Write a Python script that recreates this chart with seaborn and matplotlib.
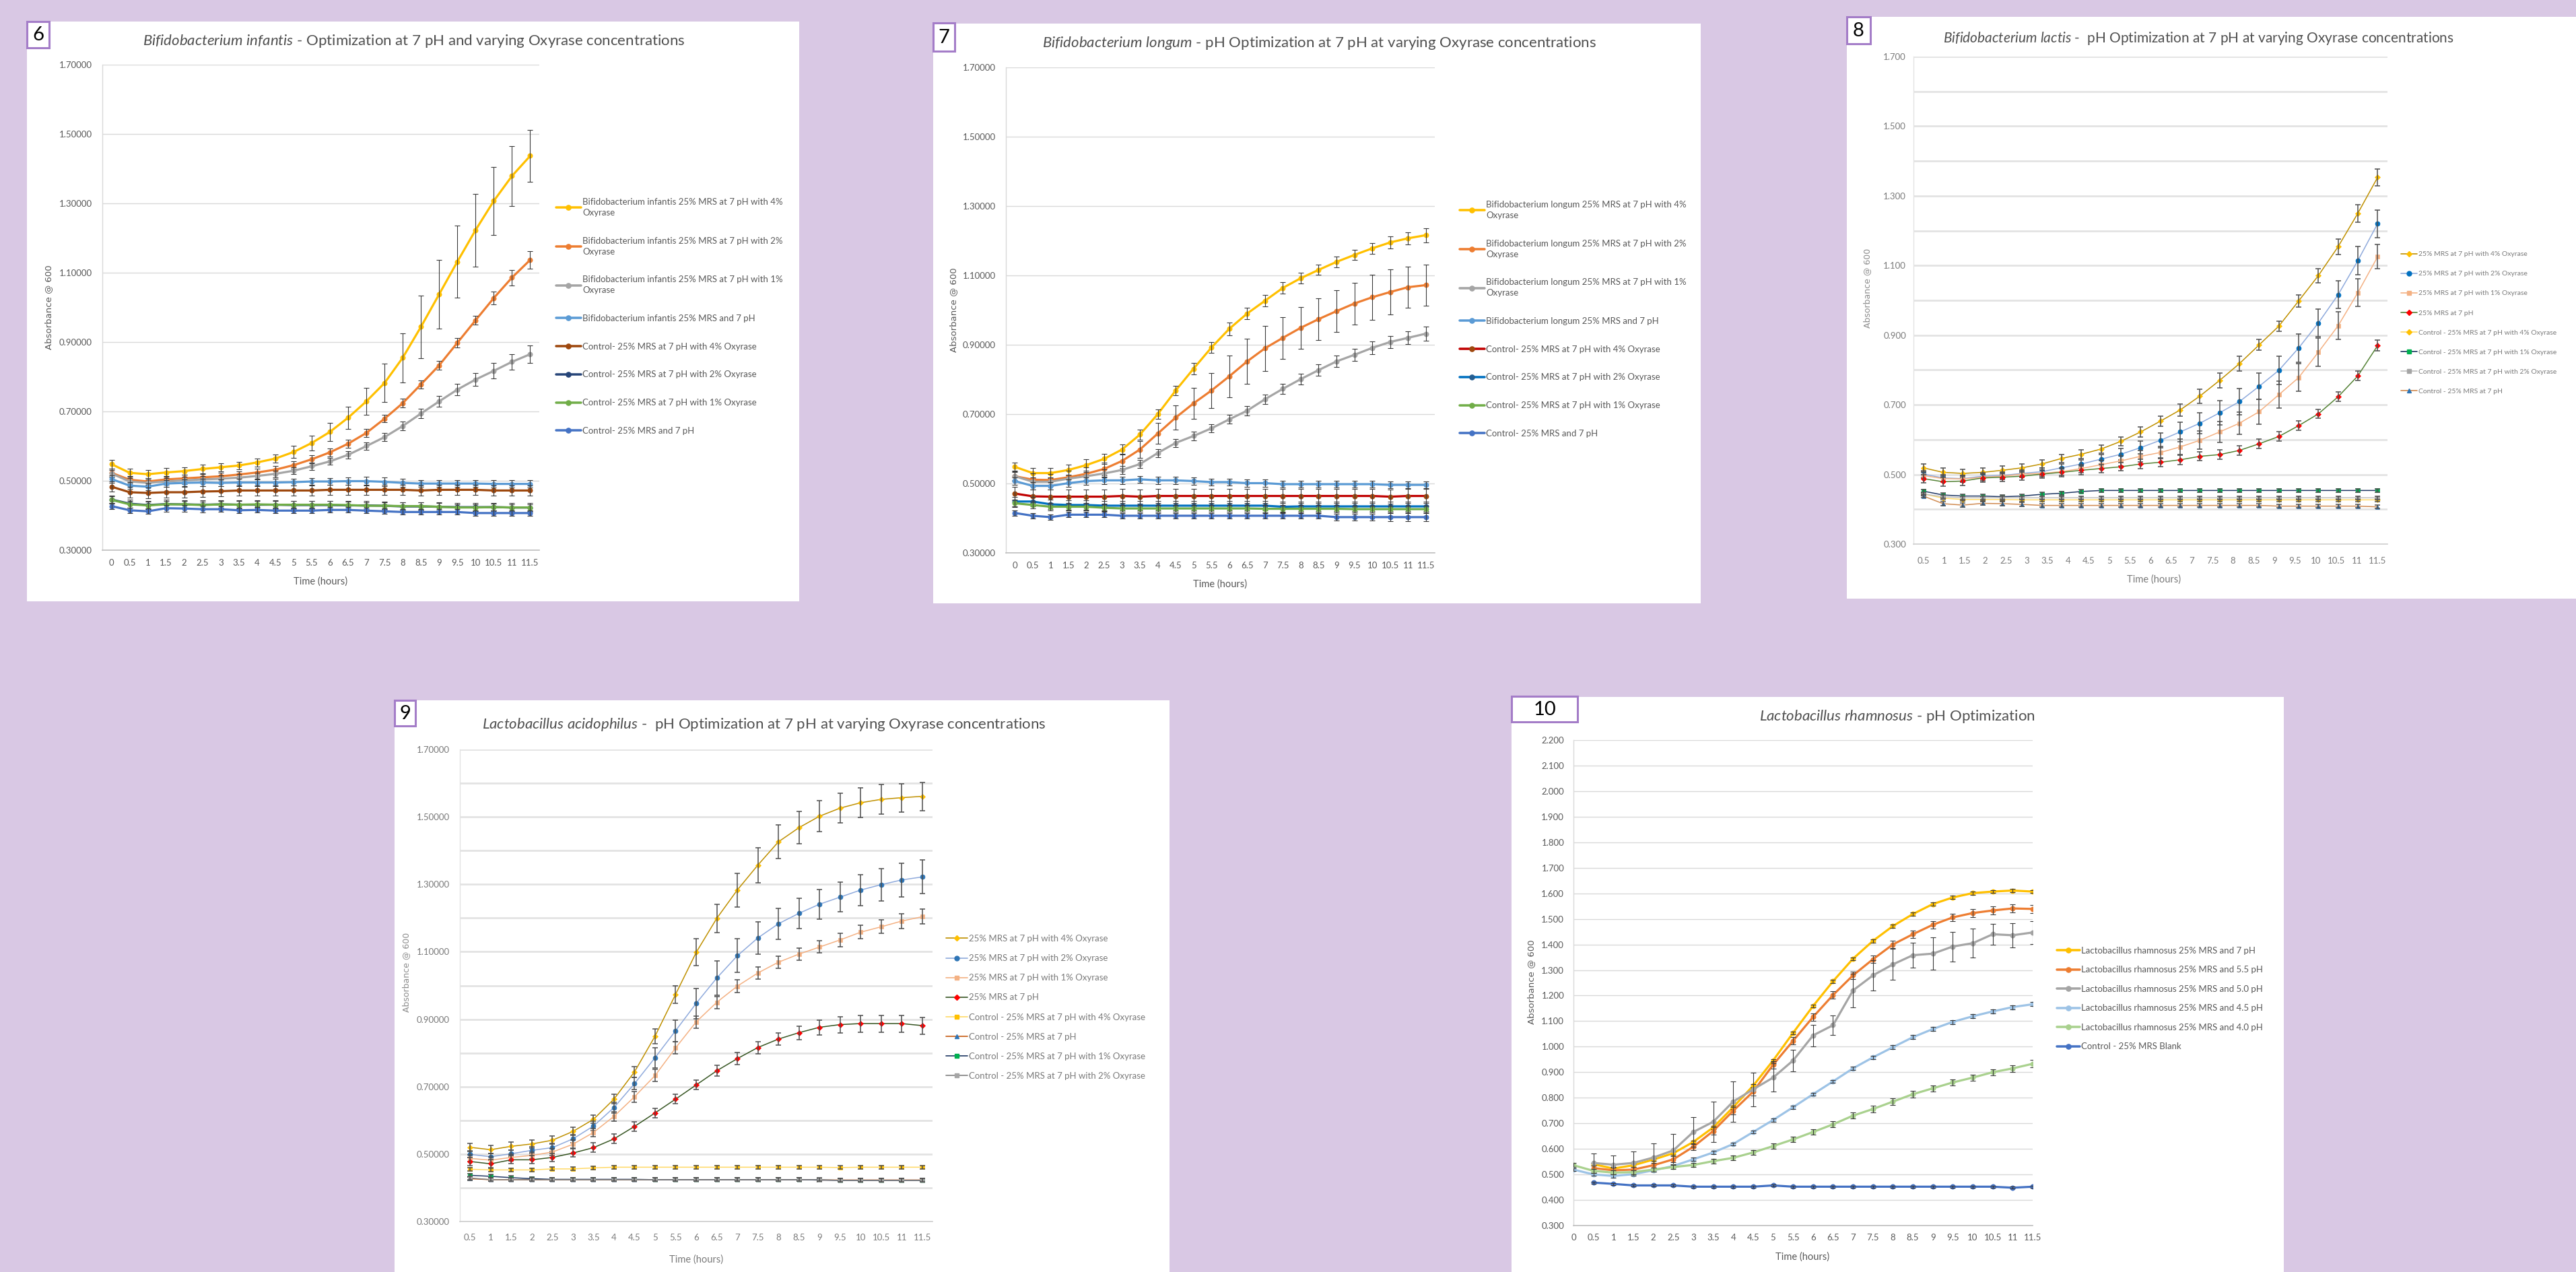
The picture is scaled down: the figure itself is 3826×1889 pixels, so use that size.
import numpy as np
import pandas as pd
import matplotlib
matplotlib.use("Agg")
import matplotlib.pyplot as plt
from matplotlib.patches import Rectangle
from matplotlib.lines import Line2D
from matplotlib.ticker import FixedLocator, FormatStrFormatter
import seaborn as sns

nan = np.nan

# ------------------------------------------------------------------
# time axes
# ------------------------------------------------------------------
T24 = [0, 0.5, 1, 1.5, 2, 2.5, 3, 3.5, 4, 4.5, 5, 5.5,
       6, 6.5, 7, 7.5, 8, 8.5, 9, 9.5, 10, 10.5, 11, 11.5]
T23 = [0.5, 1, 1.5, 2, 2.5, 3, 3.5, 4, 4.5, 5, 5.5,
       6, 6.5, 7, 7.5, 8, 8.5, 9, 9.5, 10, 10.5, 11, 11.5]
LAC_TICK_LABELS = ["0.5", "1", "1.5", "2", "2.5", "3", "3.5", "4", "4.5", "5", "5.5", "6",
                   "6.5", "7", "7.5", "8", "8.5", "9", "9.5", "10", "10.5", "11", "11.5"]

# ------------------------------------------------------------------
# 6 - B. infantis
# ------------------------------------------------------------------
INF_NAMES = [
    "Bifidobacterium infantis 25% MRS at 7 pH with 4%\nOxyrase",
    "Bifidobacterium infantis 25% MRS at 7 pH with 2%\nOxyrase",
    "Bifidobacterium infantis 25% MRS at 7 pH with 1%\nOxyrase",
    "Bifidobacterium infantis 25% MRS and 7 pH",
    "Control- 25% MRS at 7 pH with 4% Oxyrase",
    "Control- 25% MRS at 7 pH with 2% Oxyrase",
    "Control- 25% MRS at 7 pH with 1% Oxyrase",
    "Control- 25% MRS and 7 pH",
]
INF_4 = [0.548, 0.523, 0.519, 0.524, 0.528, 0.534, 0.539, 0.544, 0.553, 0.564, 0.583, 0.609,
         0.641, 0.682, 0.729, 0.782, 0.855, 0.944, 1.038, 1.132, 1.223, 1.307, 1.379, 1.437]
INF_4_SD = [0.013, 0.012, 0.012, 0.012, 0.011, 0.012, 0.011, 0.011, 0.012, 0.012, 0.017, 0.021,
            0.026, 0.032, 0.038, 0.055, 0.071, 0.090, 0.099, 0.103, 0.105, 0.098, 0.087, 0.075]
INF_2 = [0.523, 0.503, 0.498, 0.504, 0.507, 0.510, 0.513, 0.518, 0.524, 0.532, 0.545, 0.562,
         0.582, 0.607, 0.638, 0.679, 0.724, 0.778, 0.833, 0.898, 0.963, 1.027, 1.086, 1.137]
INF_2_SD = [0.011, 0.010, 0.010, 0.010, 0.010, 0.010, 0.010, 0.010, 0.010, 0.010, 0.011, 0.012,
            0.012, 0.012, 0.011, 0.011, 0.012, 0.012, 0.012, 0.013, 0.013, 0.018, 0.022, 0.025]
INF_1 = [0.521, 0.498, 0.494, 0.498, 0.501, 0.504, 0.506, 0.509, 0.514, 0.520, 0.529, 0.542,
         0.556, 0.575, 0.600, 0.626, 0.658, 0.694, 0.729, 0.763, 0.792, 0.817, 0.843, 0.865]
INF_1_SD = [0.010, 0.010, 0.010, 0.010, 0.010, 0.010, 0.010, 0.010, 0.010, 0.010, 0.010, 0.010,
            0.010, 0.011, 0.011, 0.011, 0.012, 0.013, 0.015, 0.016, 0.018, 0.022, 0.023, 0.025]
INF_0 = [0.505, 0.486, 0.483, 0.492, 0.494, 0.495, 0.494, 0.495, 0.495, 0.495, 0.496, 0.498,
         0.498, 0.499, 0.499, 0.497, 0.494, 0.492, 0.492, 0.492, 0.492, 0.491, 0.491, 0.491]
INF_0_SD = [0.010, 0.010, 0.010, 0.010, 0.010, 0.010, 0.010, 0.010, 0.010, 0.010, 0.010, 0.010,
            0.010, 0.010, 0.012, 0.012, 0.012, 0.010, 0.010, 0.010, 0.010, 0.010, 0.010, 0.010]
CTL_INF_4 = [0.483, 0.467, 0.465, 0.467, 0.467, 0.469, 0.470, 0.472, 0.472, 0.472, 0.472, 0.472,
             0.474, 0.474, 0.474, 0.474, 0.474, 0.472, 0.474, 0.474, 0.474, 0.472, 0.472, 0.472]
CTL_INF_4_SD = [0.015, 0.015, 0.015, 0.015, 0.015, 0.015, 0.015, 0.015, 0.015, 0.015, 0.015, 0.015,
                0.015, 0.015, 0.015, 0.015, 0.015, 0.015, 0.015, 0.015, 0.015, 0.015, 0.015, 0.015]
CTL_INF_2 = [0.446, 0.434, 0.430, 0.433, 0.432, 0.431, 0.432, 0.431, 0.431, 0.431, 0.430, 0.430,
             0.430, 0.429, 0.429, 0.428, 0.426, 0.426, 0.425, 0.424, 0.424, 0.424, 0.423, 0.423]
CTL_INF_2_SD = [0.012, 0.012, 0.012, 0.012, 0.012, 0.012, 0.012, 0.012, 0.012, 0.012, 0.012, 0.012,
                0.012, 0.012, 0.012, 0.012, 0.012, 0.012, 0.012, 0.012, 0.012, 0.012, 0.012, 0.012]
CTL_INF_1 = [0.445, 0.432, 0.429, 0.432, 0.432, 0.430, 0.432, 0.431, 0.432, 0.431, 0.431, 0.431,
             0.431, 0.430, 0.428, 0.428, 0.427, 0.427, 0.425, 0.423, 0.423, 0.424, 0.423, 0.423]
CTL_INF_1_SD = [0.010, 0.010, 0.010, 0.010, 0.010, 0.010, 0.010, 0.010, 0.010, 0.010, 0.010, 0.010,
                0.010, 0.010, 0.010, 0.010, 0.010, 0.010, 0.010, 0.010, 0.010, 0.010, 0.010, 0.010]
CTL_INF_0 = [0.427, 0.415, 0.412, 0.421, 0.420, 0.418, 0.418, 0.415, 0.416, 0.414, 0.414, 0.414,
             0.416, 0.416, 0.414, 0.412, 0.410, 0.410, 0.410, 0.410, 0.407, 0.407, 0.407, 0.407]
CTL_INF_0_SD = [0.008, 0.008, 0.008, 0.010, 0.010, 0.010, 0.008, 0.008, 0.008, 0.008, 0.008, 0.008,
                0.008, 0.008, 0.008, 0.008, 0.008, 0.008, 0.008, 0.008, 0.008, 0.008, 0.008, 0.008]

# ------------------------------------------------------------------
# 7 - B. longum
# ------------------------------------------------------------------
LON_NAMES = [
    "Bifidobacterium longum 25% MRS at 7 pH with 4%\nOxyrase",
    "Bifidobacterium longum 25% MRS at 7 pH with 2%\nOxyrase",
    "Bifidobacterium longum 25% MRS at 7 pH with 1%\nOxyrase",
    "Bifidobacterium longum 25% MRS and 7 pH",
    "Control- 25% MRS at 7 pH with 4% Oxyrase",
    "Control- 25% MRS at 7 pH with 2% Oxyrase",
    "Control- 25% MRS at 7 pH with 1% Oxyrase",
    "Control- 25% MRS and 7 pH",
]
LON_4 = [0.548, 0.530, 0.530, 0.539, 0.553, 0.571, 0.598, 0.641, 0.700, 0.768, 0.831, 0.892,
         0.946, 0.990, 1.027, 1.064, 1.092, 1.116, 1.139, 1.159, 1.178, 1.195, 1.207, 1.216]
LON_4_SD = [0.013, 0.015, 0.015, 0.015, 0.016, 0.015, 0.014, 0.014, 0.014, 0.014, 0.016, 0.016,
            0.018, 0.017, 0.016, 0.016, 0.015, 0.015, 0.015, 0.015, 0.016, 0.017, 0.018, 0.020]
LON_2 = [0.521, 0.511, 0.510, 0.518, 0.528, 0.542, 0.565, 0.598, 0.644, 0.690, 0.731, 0.768,
         0.809, 0.852, 0.890, 0.920, 0.949, 0.974, 0.997, 1.019, 1.037, 1.052, 1.066, 1.072]
LON_2_SD = [0.015, 0.018, 0.018, 0.018, 0.018, 0.018, 0.020, 0.025, 0.030, 0.035, 0.045, 0.050,
            0.060, 0.065, 0.065, 0.060, 0.060, 0.060, 0.060, 0.060, 0.065, 0.065, 0.060, 0.060]
LON_1 = [0.521, 0.505, 0.505, 0.514, 0.521, 0.529, 0.539, 0.556, 0.588, 0.617, 0.637, 0.659,
         0.685, 0.710, 0.743, 0.773, 0.801, 0.827, 0.852, 0.871, 0.891, 0.908, 0.920, 0.932]
LON_1_SD = [0.012, 0.012, 0.012, 0.012, 0.012, 0.012, 0.012, 0.012, 0.012, 0.012, 0.012, 0.012,
            0.013, 0.013, 0.014, 0.014, 0.015, 0.016, 0.017, 0.018, 0.018, 0.018, 0.019, 0.020]
LON_0 = [0.507, 0.493, 0.493, 0.501, 0.507, 0.509, 0.509, 0.512, 0.509, 0.509, 0.507, 0.504,
         0.504, 0.501, 0.501, 0.498, 0.498, 0.498, 0.498, 0.498, 0.498, 0.496, 0.496, 0.496]
LON_0_SD = [0.010, 0.010, 0.010, 0.010, 0.010, 0.010, 0.010, 0.010, 0.010, 0.010, 0.010, 0.010,
            0.010, 0.010, 0.010, 0.010, 0.010, 0.010, 0.010, 0.010, 0.010, 0.010, 0.010, 0.010]
CTL_LON_4 = [0.471, 0.463, 0.462, 0.462, 0.462, 0.462, 0.464, 0.462, 0.464, 0.464, 0.464, 0.464,
             0.464, 0.464, 0.464, 0.464, 0.464, 0.464, 0.464, 0.464, 0.464, 0.462, 0.464, 0.464]
CTL_LON_4_SD = [0.020, 0.020, 0.020, 0.020, 0.020, 0.020, 0.020, 0.020, 0.020, 0.020, 0.020, 0.020,
                0.020, 0.020, 0.020, 0.020, 0.020, 0.020, 0.020, 0.020, 0.020, 0.020, 0.020, 0.020]
CTL_LON_2 = [0.448, 0.448, 0.440, 0.438, 0.438, 0.436, 0.436, 0.436, 0.436, 0.436, 0.436, 0.436,
             0.436, 0.436, 0.436, 0.433, 0.434, 0.434, 0.434, 0.434, 0.434, 0.434, 0.434, 0.434]
CTL_LON_2_SD = [0.014, 0.014, 0.014, 0.014, 0.014, 0.014, 0.014, 0.014, 0.014, 0.014, 0.014, 0.014,
                0.014, 0.014, 0.014, 0.014, 0.014, 0.014, 0.014, 0.014, 0.014, 0.014, 0.014, 0.014]
CTL_LON_1 = [0.443, 0.438, 0.433, 0.433, 0.433, 0.430, 0.428, 0.428, 0.428, 0.428, 0.428, 0.428,
             0.428, 0.428, 0.427, 0.427, 0.427, 0.427, 0.427, 0.426, 0.426, 0.426, 0.426, 0.426]
CTL_LON_1_SD = [0.010, 0.010, 0.010, 0.010, 0.010, 0.010, 0.010, 0.010, 0.010, 0.010, 0.010, 0.010,
                0.010, 0.010, 0.010, 0.010, 0.010, 0.010, 0.010, 0.010, 0.010, 0.010, 0.010, 0.010]
CTL_LON_0 = [0.415, 0.407, 0.403, 0.410, 0.410, 0.410, 0.407, 0.407, 0.407, 0.407, 0.407, 0.407,
             0.407, 0.407, 0.407, 0.407, 0.407, 0.407, 0.403, 0.403, 0.403, 0.403, 0.403, 0.403]
CTL_LON_0_SD = [0.008, 0.008, 0.008, 0.008, 0.008, 0.008, 0.008, 0.008, 0.008, 0.008, 0.008, 0.008,
                0.008, 0.008, 0.008, 0.008, 0.008, 0.008, 0.010, 0.010, 0.010, 0.012, 0.012, 0.012]

# ------------------------------------------------------------------
# 8 - B. lactis (24 readings, 23 axis labels)
# ------------------------------------------------------------------
LAC_NAMES = [
    "25% MRS at 7 pH with 4% Oxyrase",
    "25% MRS at 7 pH with 2% Oxyrase",
    "25% MRS at 7 pH with 1% Oxyrase",
    "25% MRS at 7 pH",
    "Control - 25% MRS at 7 pH with 4% Oxyrase",
    "Control - 25% MRS at 7 pH with 1% Oxyrase",
    "Control - 25% MRS at 7 pH with 2% Oxyrase",
    "Control - 25% MRS at 7 pH",
]
LAC_4 = [0.519, 0.506, 0.503, 0.506, 0.512, 0.519, 0.530, 0.546, 0.558, 0.573, 0.595, 0.622,
         0.653, 0.685, 0.725, 0.770, 0.818, 0.872, 0.926, 0.998, 1.071, 1.154, 1.250, 1.353]
LAC_4_SD = [0.012, 0.012, 0.012, 0.012, 0.012, 0.012, 0.012, 0.012, 0.012, 0.012, 0.013, 0.014,
            0.015, 0.018, 0.020, 0.022, 0.022, 0.016, 0.015, 0.018, 0.020, 0.022, 0.025, 0.025]
LAC_2 = [0.501, 0.490, 0.488, 0.495, 0.497, 0.503, 0.508, 0.519, 0.530, 0.544, 0.558, 0.577,
         0.598, 0.622, 0.647, 0.677, 0.709, 0.753, 0.799, 0.863, 0.935, 1.016, 1.114, 1.220]
LAC_2_SD = [0.010, 0.010, 0.010, 0.010, 0.010, 0.010, 0.010, 0.012, 0.012, 0.014, 0.016, 0.018,
            0.022, 0.028, 0.030, 0.035, 0.038, 0.038, 0.040, 0.040, 0.040, 0.040, 0.040, 0.040]
LAC_1 = [0.497, 0.488, 0.487, 0.492, 0.495, 0.501, 0.503, 0.508, 0.517, 0.528, 0.539, 0.552,
         0.563, 0.579, 0.598, 0.622, 0.647, 0.680, 0.729, 0.778, 0.851, 0.927, 1.022, 1.125]
LAC_1_SD = [0.010, 0.010, 0.010, 0.010, 0.010, 0.010, 0.010, 0.010, 0.012, 0.012, 0.014, 0.016,
            0.018, 0.022, 0.026, 0.030, 0.032, 0.035, 0.038, 0.040, 0.040, 0.040, 0.040, 0.035]
LAC_0 = [0.488, 0.479, 0.481, 0.490, 0.492, 0.495, 0.501, 0.506, 0.512, 0.517, 0.522, 0.530,
         0.535, 0.542, 0.552, 0.557, 0.569, 0.588, 0.609, 0.640, 0.674, 0.723, 0.783, 0.870]
LAC_0_SD = [0.012, 0.012, 0.012, 0.012, 0.012, 0.012, 0.012, 0.012, 0.012, 0.012, 0.012, 0.013,
            0.013, 0.013, 0.013, 0.013, 0.013, 0.013, 0.013, 0.013, 0.013, 0.014, 0.014, 0.015]
CTL_LAC_4 = [0.444, 0.432, 0.428, 0.428, 0.428, 0.427, 0.427, 0.427, 0.427, 0.427, 0.427, 0.427,
             0.427, 0.427, 0.427, 0.427, 0.427, 0.427, 0.427, 0.427, 0.427, 0.427, 0.427, 0.427]
CTL_LAC_1 = [0.452, 0.441, 0.438, 0.438, 0.436, 0.438, 0.443, 0.446, 0.451, 0.454, 0.454, 0.454,
             0.454, 0.454, 0.454, 0.454, 0.454, 0.454, 0.454, 0.454, 0.454, 0.454, 0.454, 0.454]
CTL_LAC_2 = [0.444, 0.436, 0.433, 0.433, 0.433, 0.433, 0.433, 0.433, 0.433, 0.433, 0.433, 0.433,
             0.433, 0.433, 0.433, 0.433, 0.433, 0.433, 0.433, 0.433, 0.433, 0.433, 0.433, 0.433]
CTL_LAC_0 = [0.438, 0.416, 0.412, 0.417, 0.416, 0.414, 0.411, 0.411, 0.411, 0.411, 0.411, 0.411,
             0.411, 0.411, 0.411, 0.411, 0.411, 0.411, 0.409, 0.409, 0.409, 0.409, 0.409, 0.407]
CTL_LAC_SD = [0.005, 0.005, 0.005, 0.005, 0.005, 0.005, 0.005, 0.005, 0.005, 0.005, 0.005, 0.005,
              0.005, 0.005, 0.005, 0.005, 0.005, 0.005, 0.005, 0.005, 0.005, 0.005, 0.005, 0.005]

# ------------------------------------------------------------------
# 9 - L. acidophilus
# ------------------------------------------------------------------
ACI_NAMES = [
    "25% MRS at 7 pH with 4% Oxyrase",
    "25% MRS at 7 pH with 2% Oxyrase",
    "25% MRS at 7 pH with 1% Oxyrase",
    "25% MRS at 7 pH",
    "Control - 25% MRS at 7 pH with 4% Oxyrase",
    "Control - 25% MRS at 7 pH",
    "Control - 25% MRS at 7 pH with 1% Oxyrase",
    "Control - 25% MRS at 7 pH with 2% Oxyrase",
]
ACI_4 = [0.520, 0.513, 0.523, 0.530, 0.541, 0.567, 0.603, 0.663, 0.744, 0.850, 0.974, 1.098,
         1.199, 1.283, 1.357, 1.426, 1.468, 1.502, 1.526, 1.542, 1.552, 1.557, 1.561]
ACI_4_SD = [0.012, 0.012, 0.012, 0.012, 0.012, 0.012, 0.012, 0.014, 0.016, 0.022, 0.026, 0.040,
            0.042, 0.050, 0.052, 0.050, 0.048, 0.046, 0.044, 0.044, 0.044, 0.042, 0.042]
ACI_2 = [0.499, 0.492, 0.501, 0.511, 0.519, 0.545, 0.583, 0.638, 0.709, 0.786, 0.866, 0.947,
         1.022, 1.088, 1.141, 1.183, 1.214, 1.241, 1.262, 1.283, 1.299, 1.313, 1.322]
ACI_2_SD = [0.010, 0.010, 0.010, 0.010, 0.012, 0.012, 0.014, 0.016, 0.018, 0.030, 0.032, 0.045,
            0.050, 0.050, 0.048, 0.046, 0.045, 0.044, 0.044, 0.046, 0.048, 0.050, 0.050]
ACI_1 = [0.487, 0.482, 0.490, 0.496, 0.506, 0.529, 0.564, 0.612, 0.670, 0.733, 0.815, 0.892,
         0.950, 0.998, 1.037, 1.069, 1.093, 1.114, 1.135, 1.158, 1.174, 1.191, 1.204]
ACI_1_SD = [0.010, 0.010, 0.010, 0.010, 0.010, 0.012, 0.012, 0.014, 0.016, 0.018, 0.018, 0.018,
            0.018, 0.018, 0.018, 0.018, 0.018, 0.018, 0.020, 0.020, 0.020, 0.022, 0.022]
ACI_0 = [0.478, 0.471, 0.483, 0.483, 0.490, 0.503, 0.519, 0.545, 0.582, 0.622, 0.663, 0.705,
         0.747, 0.783, 0.816, 0.841, 0.860, 0.876, 0.884, 0.887, 0.887, 0.887, 0.881]
ACI_0_SD = [0.012, 0.012, 0.012, 0.012, 0.012, 0.012, 0.014, 0.014, 0.014, 0.014, 0.014, 0.014,
            0.016, 0.018, 0.018, 0.018, 0.020, 0.022, 0.024, 0.025, 0.025, 0.025, 0.025]
CTL_ACI_4 = [0.455, 0.453, 0.453, 0.453, 0.456, 0.456, 0.459, 0.461, 0.461, 0.461, 0.461, 0.461,
             0.461, 0.461, 0.461, 0.461, 0.461, 0.461, 0.460, 0.461, 0.461, 0.461, 0.461]
CTL_ACI_0 = [0.427, 0.424, 0.424, 0.424, 0.424, 0.424, 0.424, 0.424, 0.424, 0.424, 0.424, 0.424,
             0.424, 0.424, 0.424, 0.424, 0.424, 0.423, 0.423, 0.423, 0.423, 0.423, 0.423]
CTL_ACI_1 = [0.437, 0.434, 0.430, 0.427, 0.425, 0.425, 0.425, 0.425, 0.425, 0.424, 0.424, 0.424,
             0.424, 0.424, 0.424, 0.424, 0.424, 0.423, 0.422, 0.422, 0.422, 0.422, 0.422]
CTL_ACI_2 = [0.429, 0.424, 0.424, 0.424, 0.424, 0.424, 0.424, 0.424, 0.424, 0.424, 0.424, 0.424,
             0.424, 0.424, 0.424, 0.424, 0.424, 0.424, 0.422, 0.422, 0.422, 0.422, 0.422]
CTL_ACI_SD = [0.005, 0.005, 0.005, 0.005, 0.005, 0.005, 0.005, 0.005, 0.005, 0.005, 0.005, 0.005,
              0.005, 0.005, 0.005, 0.005, 0.005, 0.005, 0.005, 0.005, 0.005, 0.005, 0.005]

# ------------------------------------------------------------------
# 10 - L. rhamnosus
# ------------------------------------------------------------------
RHA_NAMES = [
    "Lactobacillus rhamnosus 25% MRS and 7 pH",
    "Lactobacillus rhamnosus 25% MRS and 5.5 pH",
    "Lactobacillus rhamnosus 25% MRS and 5.0 pH",
    "Lactobacillus rhamnosus 25% MRS and 4.5 pH",
    "Lactobacillus rhamnosus 25% MRS and 4.0 pH",
    "Control - 25% MRS Blank",
]
RHA_70 = [nan, 0.540, 0.523, 0.536, 0.558, 0.583, 0.627, 0.684, 0.763, 0.847, 0.946, 1.054,
          1.159, 1.256, 1.344, 1.414, 1.472, 1.519, 1.558, 1.584, 1.601, 1.607, 1.611, 1.607]
RHA_70_SD = [nan, 0.006, 0.006, 0.006, 0.006, 0.006, 0.006, 0.006, 0.006, 0.006, 0.006, 0.006,
             0.006, 0.006, 0.006, 0.006, 0.006, 0.006, 0.006, 0.006, 0.006, 0.006, 0.006, 0.006]
RHA_55 = [nan, 0.525, 0.516, 0.519, 0.536, 0.559, 0.608, 0.670, 0.749, 0.824, 0.929, 1.023,
          1.116, 1.202, 1.279, 1.342, 1.400, 1.440, 1.477, 1.506, 1.523, 1.533, 1.541, 1.539]
RHA_55_SD = [nan, 0.010, 0.010, 0.010, 0.010, 0.012, 0.012, 0.015, 0.015, 0.015, 0.015, 0.015,
             0.015, 0.015, 0.015, 0.015, 0.015, 0.015, 0.015, 0.015, 0.015, 0.015, 0.015, 0.015]
RHA_50 = [nan, 0.545, 0.538, 0.545, 0.566, 0.594, 0.666, 0.706, 0.785, 0.833, 0.879, 0.946,
          1.044, 1.084, 1.220, 1.279, 1.322, 1.358, 1.364, 1.392, 1.405, 1.440, 1.436, 1.447]
RHA_50_SD = [nan, 0.036, 0.035, 0.045, 0.055, 0.065, 0.058, 0.080, 0.078, 0.066, 0.055, 0.042,
             0.042, 0.039, 0.066, 0.058, 0.060, 0.048, 0.063, 0.058, 0.056, 0.040, 0.048, 0.045]
RHA_45 = [0.519, 0.500, 0.494, 0.501, 0.516, 0.533, 0.559, 0.586, 0.619, 0.666, 0.713, 0.763,
          0.814, 0.864, 0.915, 0.958, 0.998, 1.037, 1.069, 1.097, 1.119, 1.138, 1.155, 1.166]
RHA_45_SD = [0.006, 0.006, 0.006, 0.006, 0.006, 0.006, 0.006, 0.006, 0.006, 0.006, 0.006, 0.006,
             0.006, 0.006, 0.006, 0.006, 0.008, 0.008, 0.008, 0.008, 0.008, 0.008, 0.008, 0.008]
RHA_40 = [0.536, 0.514, 0.507, 0.509, 0.519, 0.529, 0.537, 0.552, 0.565, 0.586, 0.611, 0.637,
          0.666, 0.696, 0.730, 0.756, 0.785, 0.814, 0.837, 0.860, 0.879, 0.900, 0.915, 0.933]
RHA_40_SD = [0.008, 0.008, 0.008, 0.008, 0.008, 0.008, 0.008, 0.010, 0.010, 0.010, 0.010, 0.010,
             0.010, 0.012, 0.012, 0.012, 0.012, 0.012, 0.012, 0.012, 0.012, 0.012, 0.013, 0.014]
RHA_CTL = [nan, 0.468, 0.463, 0.457, 0.457, 0.457, 0.452, 0.452, 0.452, 0.452, 0.457, 0.452,
           0.452, 0.452, 0.452, 0.452, 0.452, 0.452, 0.452, 0.452, 0.452, 0.452, 0.448, 0.452]
RHA_CTL_SD = [nan, 0.004, 0.004, 0.004, 0.004, 0.004, 0.004, 0.004, 0.004, 0.004, 0.004, 0.004,
              0.004, 0.004, 0.004, 0.004, 0.004, 0.004, 0.004, 0.004, 0.004, 0.004, 0.004, 0.004]

# ------------------------------------------------------------------
# styles: (line colour, marker, marker colour)
# ------------------------------------------------------------------
STY_INF = [("#FFC000", "o", "#FFC000"), ("#ED7D31", "o", "#ED7D31"), ("#A5A5A5", "o", "#A5A5A5"),
           ("#5B9BD5", "o", "#5B9BD5"), ("#9E480E", "o", "#9E480E"), ("#264478", "o", "#264478"),
           ("#70AD47", "o", "#70AD47"), ("#4472C4", "o", "#4472C4")]
STY_LON = [("#FFC000", "o", "#FFC000"), ("#ED7D31", "o", "#ED7D31"), ("#A5A5A5", "o", "#A5A5A5"),
           ("#5B9BD5", "o", "#5B9BD5"), ("#C00000", "o", "#9E480E"), ("#0070C0", "o", "#255E91"),
           ("#70AD47", "o", "#70AD47"), ("#4472C4", "o", "#4472C4")]
STY_LAC = [("#BF9000", "D", "#FFC000"), ("#8FAADC", "o", "#0070C0"), ("#F4B183", "s", "#F4B183"),
           ("#548235", "D", "#FF0000"), ("#FFD966", "D", "#FFC000"), ("#203864", "s", "#00B050"),
           ("#BFBFBF", "s", "#A5A5A5"), ("#D08A50", "^", "#2E75B6")]
STY_ACI = [("#BF9000", "D", "#FFC000"), ("#8FAADC", "o", "#2E75B6"), ("#F4B183", "s", "#F4B183"),
           ("#375623", "D", "#FF0000"), ("#FFD966", "s", "#FFC000"), ("#C55A11", "^", "#2E75B6"),
           ("#203864", "s", "#00B050"), ("#7F7F7F", "s", "#A5A5A5")]
STY_RHA = [("#FFC000", "o", "#FFC000"), ("#ED7D31", "o", "#ED7D31"), ("#A5A5A5", "o", "#A5A5A5"),
           ("#9DC3E6", "o", "#9DC3E6"), ("#A9D18E", "o", "#A9D18E"), ("#4472C4", "o", "#4472C4")]

W, H = 3826, 1889
BG = "#D9C8E4"
BOX_EDGE = "#A47DC8"

sns.set_style("white")
plt.rcParams["font.family"] = ["Lato", "DejaVu Sans"]
plt.rcParams["mathtext.fontset"] = "custom"
plt.rcParams["mathtext.it"] = "Lato:italic"
plt.rcParams["mathtext.rm"] = "Lato"


def fig_xy(x, y):
    return x / W, 1 - y / H


def make_panel(fig, cfg):
    x0, y0, x1, y1 = cfg["white"]
    fig.patches.append(Rectangle(fig_xy(x0, y1), (x1 - x0) / W, (y1 - y0) / H,
                                 transform=fig.transFigure, facecolor="white",
                                 edgecolor="none", zorder=-1))
    b0, c0, b1, c1 = cfg["box"]
    fig.patches.append(Rectangle(fig_xy(b0, c1), (b1 - b0) / W, (c1 - c0) / H,
                                 transform=fig.transFigure, facecolor="white",
                                 edgecolor=BOX_EDGE, lw=2.2, zorder=5))
    fig.text(*fig_xy((b0 + b1) / 2, (c0 + c1) / 2 + 1), cfg["num"], ha="center", va="center",
             fontsize=21, color="black", zorder=6)
    fig.text(*fig_xy(*cfg["title_xy"]), cfg["title"], ha="center", va="center",
             fontsize=cfg["title_fs"], color="#505050")

    a0, d0, a1, d1 = cfg["axes"]
    ax = fig.add_axes([a0 / W, 1 - d1 / H, (a1 - a0) / W, (d1 - d0) / H])
    ax.set_facecolor("none")

    tc = cfg["tick_color"]
    handles = []
    z = 2
    for name, y, sd, (lc, mk, mc) in zip(cfg["names"], cfg["values"], cfg["sds"], cfg["styles"]):
        d = pd.DataFrame({"time": cfg["x"], "value": y, "sd": sd}).dropna()
        ms = cfg["ms"] * (0.8 if mk == "D" else 1.0)
        sns.lineplot(data=d, x="time", y="value", ax=ax, color=lc, linewidth=cfg["lw"],
                     marker=mk, markersize=ms, markerfacecolor=mc, markeredgecolor=mc,
                     markeredgewidth=0.5, errorbar=None, legend=False, zorder=z)
        ax.errorbar(d["time"], d["value"], yerr=d["sd"], fmt="none", ecolor=cfg["ecolor"],
                    elinewidth=cfg["elw"], capsize=cfg["cap"], capthick=cfg["elw"], zorder=z + 0.5)
        handles.append(Line2D([0], [0], color=lc, lw=cfg["lw"] * 1.1, marker=mk, ms=ms,
                              mfc=mc, mec=mc))
        z += 1

    ax.set_xlim(*cfg["xlim"])
    ax.set_ylim(*cfg["ylim"])
    ax.xaxis.set_major_locator(FixedLocator(cfg["xticks"]))
    ax.set_xticklabels(cfg["xlabels"])
    ax.yaxis.set_major_locator(FixedLocator(cfg["yticks"]))
    ax.yaxis.set_major_formatter(FormatStrFormatter(cfg["yfmt"]))
    ax.grid(axis="y", which="major", color=cfg["grid_color"], lw=cfg["grid_lw"])
    ax.grid(axis="x", visible=False)
    if cfg["minor"] is not None:
        ax.yaxis.set_minor_locator(FixedLocator(cfg["minor"]))
        ax.grid(axis="y", which="minor", color=cfg["grid_color"], lw=cfg["grid_lw"])
    ax.tick_params(axis="both", which="both", length=0, labelsize=cfg["tick_fs"], colors=tc)
    ax.tick_params(axis="y", pad=cfg["ypad"])
    ax.tick_params(axis="x", pad=cfg["xpad"])
    for s in ["top", "right"]:
        ax.spines[s].set_visible(False)
    ax.spines["left"].set_color(cfg["grid_color"])
    ax.spines["bottom"].set_color(cfg["axis_color"])
    ax.spines["left"].set_linewidth(1.0)
    ax.spines["bottom"].set_linewidth(1.2)

    ax.set_xlabel("Time (hours)", fontsize=cfg["label_fs"], color=tc)
    ax.xaxis.label.set_va("center")
    ax.xaxis.set_label_coords(*cfg["xlabel_pos"])
    ax.set_ylabel("Absorbance @ 600", fontsize=cfg["ylabel_fs"], color=cfg["ylabel_color"],
                  family="DejaVu Sans")
    ax.yaxis.label.set_va("center")
    ax.yaxis.set_label_coords(*cfg["ylabel_pos"])

    leg = ax.legend(handles, cfg["names"], loc="upper left",
                    bbox_to_anchor=fig_xy(*cfg["legend_xy"]), bbox_transform=fig.transFigure,
                    frameon=False, fontsize=cfg["legend_fs"], labelcolor=tc,
                    handlelength=cfg["hl"], handletextpad=0.15, labelspacing=cfg["ls"],
                    borderpad=0, borderaxespad=0)
    for t in leg.get_texts():
        t.set_linespacing(1.4)
    return ax


fig = plt.figure(figsize=(W / 100, H / 100), dpi=100, facecolor=BG)

YT_5 = [0.3, 0.5, 0.7, 0.9, 1.1, 1.3, 1.5, 1.7]
YT_MINOR = [0.4, 0.6, 0.8, 1.0, 1.2, 1.4, 1.6]
YT_RHA = [0.3, 0.4, 0.5, 0.6, 0.7, 0.8, 0.9, 1.0, 1.1, 1.2, 1.3, 1.4, 1.5, 1.6, 1.7,
          1.8, 1.9, 2.0, 2.1, 2.2]

common_bold = dict(lw=2.3, ms=5.2, ecolor="#3A3A3A", elw=0.8, cap=3.0,
                   grid_color="#D9D9D9", grid_lw=1.0, axis_color="#BFBFBF",
                   tick_color="#595959", tick_fs=9.5, label_fs=10.5,
                   ylabel_fs=9.5, ylabel_color="#595959", legend_fs=9.5)
common_thin = dict(lw=1.1, ms=5.0, ecolor="#4D4D4D", elw=1.1, cap=3.0,
                   grid_color="#E3E3E3", grid_lw=2.0, axis_color="#CFCFCF",
                   tick_color="#7A7A7A", tick_fs=9.5, label_fs=10.5,
                   ylabel_fs=9, ylabel_color="#8C8C8C", legend_fs=9.5)

panels = [
    dict(common_bold, num="6", white=(40, 32, 1187, 893), box=(40, 32, 73, 71),
         title=r"$\mathit{Bifidobacterium\ infantis}$ - Optimization at 7 pH and varying Oxyrase concentrations",
         title_xy=(615, 61), title_fs=16, axes=(152, 96, 801, 817),
         x=T24, names=INF_NAMES,
         values=[INF_4, INF_2, INF_1, INF_0, CTL_INF_4, CTL_INF_2, CTL_INF_1, CTL_INF_0],
         sds=[INF_4_SD, INF_2_SD, INF_1_SD, INF_0_SD, CTL_INF_4_SD, CTL_INF_2_SD, CTL_INF_1_SD, CTL_INF_0_SD],
         styles=STY_INF, xlim=(-0.25, 11.75), ylim=(0.3, 1.7),
         xticks=T24, xlabels=[f"{t:g}" for t in T24], yticks=YT_5, yfmt="%.5f", minor=None,
         ypad=11, xpad=9, xlabel_pos=(0.5, -0.065), ylabel_pos=(-0.123, 0.5),
         legend_xy=(826, 294), hl=2.8, ls=2.25),
    dict(common_bold, num="7", white=(1386, 35, 2526, 896), box=(1386, 34, 1418, 76),
         title=r"$\mathit{Bifidobacterium\ longum}$ - pH Optimization at 7 pH at varying Oxyrase concentrations",
         title_xy=(1959, 64), title_fs=16, axes=(1494, 100, 2131, 821),
         x=T24, names=LON_NAMES,
         values=[LON_4, LON_2, LON_1, LON_0, CTL_LON_4, CTL_LON_2, CTL_LON_1, CTL_LON_0],
         sds=[LON_4_SD, LON_2_SD, LON_1_SD, LON_0_SD, CTL_LON_4_SD, CTL_LON_2_SD, CTL_LON_1_SD, CTL_LON_0_SD],
         styles=STY_LON, xlim=(-0.25, 11.75), ylim=(0.3, 1.7),
         xticks=T24, xlabels=[f"{t:g}" for t in T24], yticks=YT_5, yfmt="%.5f", minor=None,
         ypad=11, xpad=9, xlabel_pos=(0.5, -0.064), ylabel_pos=(-0.122, 0.5),
         legend_xy=(2168, 298), hl=2.8, ls=2.25),
    dict(common_thin, num="8", white=(2743, 25, 3826, 889), box=(2743, 25, 2778, 65),
         title=r"$\mathit{Bifidobacterium\ lactis}$ -  pH Optimization at 7 pH at varying Oxyrase concentrations",
         title_xy=(3265, 57), title_fs=15, axes=(2842, 84, 3546, 808),
         x=T24, names=LAC_NAMES,
         values=[LAC_4, LAC_2, LAC_1, LAC_0, CTL_LAC_4, CTL_LAC_1, CTL_LAC_2, CTL_LAC_0],
         sds=[LAC_4_SD, LAC_2_SD, LAC_1_SD, LAC_0_SD, CTL_LAC_SD, CTL_LAC_SD, CTL_LAC_SD, CTL_LAC_SD],
         styles=STY_LAC, xlim=(-0.25, 11.75), ylim=(0.3, 1.7),
         xticks=np.linspace(0, 11.5, 23), xlabels=LAC_TICK_LABELS,
         yticks=YT_5, yfmt="%.3f", minor=YT_MINOR,
         ypad=8, xpad=14, xlabel_pos=(0.507, -0.073), ylabel_pos=(-0.097, 0.525),
         legend_xy=(3566, 373), hl=2.3, ls=1.9, legend_fs=7.5),
    dict(common_thin, num="9", white=(586, 1040, 1737, 1889), box=(586, 1040, 617, 1078),
         title=r"$\mathit{Lactobacillus\ acidophilus}$ -  pH Optimization at 7 pH at varying Oxyrase concentrations",
         title_xy=(1135, 1076), title_fs=16, axes=(683, 1113, 1385, 1814),
         x=T23, names=ACI_NAMES,
         values=[ACI_4, ACI_2, ACI_1, ACI_0, CTL_ACI_4, CTL_ACI_0, CTL_ACI_1, CTL_ACI_2],
         sds=[ACI_4_SD, ACI_2_SD, ACI_1_SD, ACI_0_SD, CTL_ACI_SD, CTL_ACI_SD, CTL_ACI_SD, CTL_ACI_SD],
         styles=STY_ACI, xlim=(0.25, 11.75), ylim=(0.3, 1.7),
         xticks=T23, xlabels=[f"{t:g}" for t in T23], yticks=YT_5, yfmt="%.5f", minor=YT_MINOR,
         ypad=11, xpad=13, xlabel_pos=(0.5, -0.081), ylabel_pos=(-0.113, 0.528),
         legend_xy=(1405, 1388), hl=2.4, ls=1.3),
    dict(common_bold, num="10", white=(2245, 1035, 3392, 1889), box=(2245, 1034, 2343, 1072),
         title=r"$\mathit{Lactobacillus\ rhamnosus}$ - pH Optimization",
         title_xy=(2818, 1064), title_fs=16, axes=(2337, 1099, 3019, 1820),
         x=T24, names=RHA_NAMES,
         values=[RHA_70, RHA_55, RHA_50, RHA_45, RHA_40, RHA_CTL],
         sds=[RHA_70_SD, RHA_55_SD, RHA_50_SD, RHA_45_SD, RHA_40_SD, RHA_CTL_SD],
         styles=STY_RHA, xlim=(0, 11.5), ylim=(0.3, 2.2),
         xticks=T24, xlabels=[f"{t:g}" for t in T24], yticks=YT_RHA, yfmt="%.3f", minor=None,
         ypad=10, xpad=9, xlabel_pos=(0.499, -0.065), ylabel_pos=(-0.092, 0.502),
         legend_xy=(3055, 1406), hl=2.6, ls=1.25),
]

for cfg in panels:
    make_panel(fig, cfg)

fig.savefig("out.png", dpi=100, facecolor=BG)
